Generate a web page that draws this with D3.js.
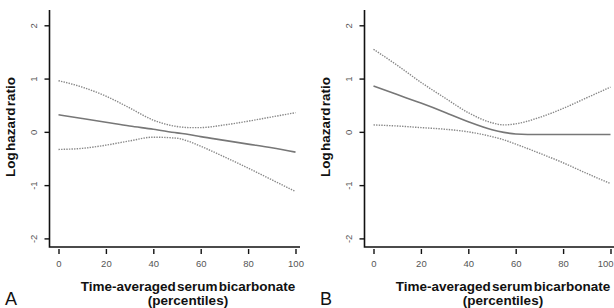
<!DOCTYPE html>
<html>
<head>
<meta charset="utf-8">
<script src="https://cdn.jsdelivr.net/npm/d3@7"></script>
<style>
  body { margin: 0; background: #fff; }
  svg { display: block; font-family: Arial, "Liberation Sans", sans-serif; }
</style>
</head>
<body>
<script>
var pct = [0, 10, 20, 30, 40, 50, 55, 60, 70, 80, 90, 100];

// panel A
var aEstimate = [0.32, 0.25, 0.18, 0.11, 0.05, -0.02, -0.05, -0.09, -0.16, -0.23, -0.30, -0.38];
var aUpper    = [0.96, 0.84, 0.67, 0.45, 0.22, 0.10, 0.08, 0.08, 0.13, 0.20, 0.28, 0.36];
var aLower    = [-0.33, -0.31, -0.25, -0.17, -0.10, -0.12, -0.18, -0.27, -0.47, -0.68, -0.90, -1.12];

// panel B
var bEstimate = [0.86, 0.70, 0.54, 0.37, 0.19, 0.04, -0.01, -0.04, -0.05, -0.05, -0.05, -0.05];
var bUpper    = [1.55, 1.25, 0.93, 0.64, 0.36, 0.17, 0.13, 0.15, 0.27, 0.44, 0.64, 0.84];
var bLower    = [0.13, 0.11, 0.08, 0.05, 0.00, -0.09, -0.15, -0.23, -0.40, -0.58, -0.78, -0.97];

var xTicks = [0, 20, 40, 60, 80, 100];
var yTicks = [-2, -1, 0, 1, 2];

var panels = [
  {letter: "A", est: aEstimate, up: aUpper, lo: aLower, dx: 0},
  {letter: "B", est: bEstimate, up: bUpper, lo: bLower, dx: 315}
];

var W = 614;
var svg = d3.select("body").append("svg")
    .attr("width", W)
    .attr("height", 308);

// shared scales, each panel is just shifted sideways
var x = d3.scaleLinear().domain([0, 100]).range([58.5, 295.5]);
var y = d3.scaleLinear().domain([-2, 2]).range([238.4, 25.3]);

var line = d3.line()
    .curve(d3.curveMonotoneX)
    .x(function(d) { return x(d.p); })
    .y(function(d) { return y(d.v); });

function pts(vals) {
  return pct.map(function(p, i) { return {p: p, v: vals[i]}; });
}

panels.forEach(function(pn) {
  var g = svg.append("g").attr("transform", "translate(" + pn.dx + ",0)");

  // L shaped frame
  g.append("path")
      .attr("d", "M49.5,10V247H300")
      .attr("fill", "none")
      .attr("stroke", "#111")
      .attr("stroke-width", 1.6);

  // y ticks + rotated labels (plain hyphen, like R prints)
  var yAx = g.append("g").attr("transform", "translate(49.5,0)")
      .call(d3.axisLeft(y).tickValues(yTicks).tickSize(5)
        .tickFormat(function(d) { return String(d); }));
  yAx.select(".domain").remove();
  yAx.selectAll(".tick line").attr("stroke", "#111").attr("stroke-width", 1.4);
  yAx.selectAll(".tick text")
      .attr("x", 0).attr("dy", 0)
      .attr("transform", "translate(-13,0) rotate(-90)")
      .attr("text-anchor", "middle")
      .attr("fill", "#555")
      .style("font-size", "9.5px");

  // x ticks, sitting a little below the frame like R does
  var xAx = g.append("g").attr("transform", "translate(0,249)")
      .call(d3.axisBottom(x).tickValues(xTicks).tickSize(5));
  xAx.select(".domain").remove();
  xAx.selectAll(".tick line").attr("stroke", "#111").attr("stroke-width", 1.4);
  xAx.selectAll(".tick text")
      .attr("y", 11)
      .attr("fill", "#555")
      .style("font-size", "9.5px");
  // keep the last label of the right panel inside the page
  xAx.selectAll(".tick text").each(function(d) {
    if (pn.dx + x(d) + 8 > W) {
      d3.select(this).attr("text-anchor", "end").attr("x", W - 1 - pn.dx - x(d));
    }
  });

  // confidence band (dotted) and estimate (solid)
  [pn.up, pn.lo].forEach(function(arr) {
    g.append("path")
        .attr("d", line(pts(arr)))
        .attr("fill", "none")
        .attr("stroke", "#888")
        .attr("stroke-width", 1.4)
        .attr("stroke-dasharray", "1.4,1.2");
  });
  g.append("path")
      .attr("d", line(pts(pn.est)))
      .attr("fill", "none")
      .attr("stroke", "#777")
      .attr("stroke-width", 1.6);

  // axis titles
  g.append("text")
      .attr("transform", "translate(15,127) rotate(-90)")
      .attr("text-anchor", "middle")
      .style("font-size", "13.5px")
      .style("font-weight", "bold")
      .style("word-spacing", "-2.5px")
      .attr("fill", "#111")
      .text("Log hazard ratio");

  g.append("text")
      .attr("x", 188).attr("y", 291)
      .attr("text-anchor", "middle")
      .style("font-size", "13.5px")
      .style("font-weight", "bold")
      .style("word-spacing", "-2.5px")
      .attr("fill", "#111")
      .text("Time-averaged serum bicarbonate");

  g.append("text")
      .attr("x", 188).attr("y", 305)
      .attr("text-anchor", "middle")
      .style("font-size", "13.5px")
      .style("font-weight", "bold")
      .attr("fill", "#111")
      .text("(percentiles)");

  g.append("text")
      .attr("x", 5).attr("y", 305)
      .style("font-size", "18px")
      .attr("fill", "#111")
      .text(pn.letter);
});
</script>
</body>
</html>
